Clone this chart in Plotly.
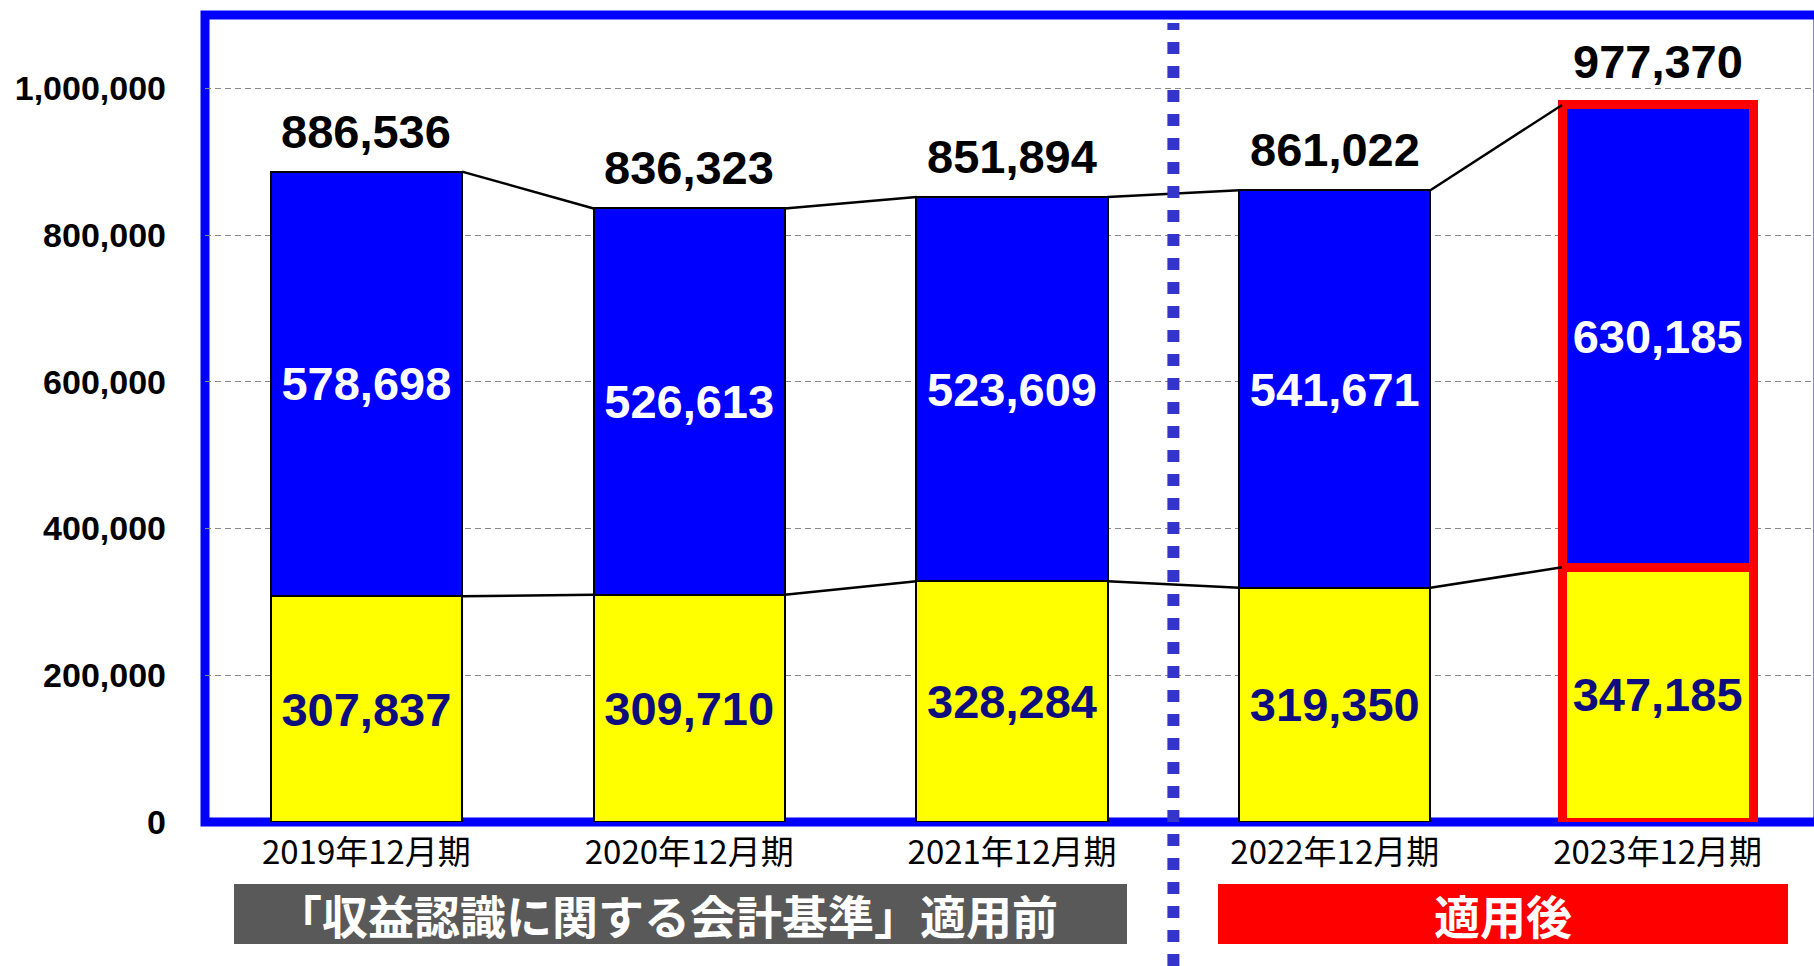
import plotly.graph_objects as go

# data
periods = ["2019年12月期", "2020年12月期", "2021年12月期", "2022年12月期", "2023年12月期"]
lower_values = [307837, 309710, 328284, 319350, 347185]
upper_values = [578698, 526613, 523609, 541671, 630185]
total_values = [886536, 836323, 851894, 861022, 977370]
y_ticks = [0, 200000, 400000, 600000, 800000, 1000000]
before_label = "「収益認識に関する会計基準」適用前"
after_label = "適用後"

W, H = 1814, 966
# plot area in page pixels
PLOT_L, PLOT_T, PLOT_B = 205, 15, 822
M_L, M_R, M_T = PLOT_L, 0, PLOT_T
M_B = H - PLOT_B
BAR_W = 0.592
CAT_STEP = 322.8  # px per category
plot_w = W - M_L - M_R
plot_h = H - M_T - M_B
X_RANGE = [-0.5, -0.5 + plot_w / CAT_STEP]
Y_RANGE = [0, 1100000]

NUM_FONT = "Liberation Sans, Arial, sans-serif"
JP_FONT = "Noto Sans CJK JP, sans-serif"

xs = list(range(len(periods)))
tops = [a + b for a, b in zip(lower_values, upper_values)]
edge_colors = ["black"] * 4 + ["#ff0000"]
edge_widths = [2, 2, 2, 2, 9]


def py_paper(py):
    return (PLOT_B - py) / plot_h


def px_paper(px):
    return (px - PLOT_L) / plot_w


def cat_paper(c):
    return (c - X_RANGE[0]) / (X_RANGE[1] - X_RANGE[0])


fig = go.Figure()

fig.add_trace(go.Bar(
    x=xs, y=lower_values, width=BAR_W,
    marker=dict(color="#ffff00", line=dict(color=edge_colors, width=edge_widths)),
    text=[f"{v:,}" for v in lower_values],
    textposition="inside", insidetextanchor="middle", textangle=0,
    constraintext="none",
    textfont=dict(family=NUM_FONT, size=47, color="#0d0d80", weight="bold"),
    hoverinfo="skip", showlegend=False,
))
fig.add_trace(go.Bar(
    x=xs, y=upper_values, width=BAR_W,
    marker=dict(color="#0000ff", line=dict(color=edge_colors, width=edge_widths)),
    text=[f"{v:,}" for v in upper_values],
    textposition="inside", insidetextanchor="middle", textangle=0,
    constraintext="none",
    textfont=dict(family=NUM_FONT, size=47, color="white", weight="bold"),
    hoverinfo="skip", showlegend=False,
))

# series lines between the bars
lx, ly_top, ly_low = [], [], []
for i in range(len(xs) - 1):
    lx += [xs[i] + BAR_W / 2, xs[i + 1] - BAR_W / 2, None]
    ly_top += [tops[i], tops[i + 1], None]
    ly_low += [lower_values[i], lower_values[i + 1], None]
for ly in (ly_top, ly_low):
    fig.add_trace(go.Scatter(
        x=lx, y=ly, mode="lines", line=dict(color="black", width=2.5),
        hoverinfo="skip", showlegend=False,
    ))

# totals above bars
for i, t in enumerate(total_values):
    fig.add_annotation(
        x=xs[i], y=tops[i], text=f"{t:,}", showarrow=False,
        yanchor="bottom", yshift=12 if i < 4 else 15,
        font=dict(family=NUM_FONT, size=47, color="black", weight="bold"),
    )

# blue frame (right side runs off the page)
fig.add_shape(type="rect", xref="paper", yref="paper",
              x0=0, x1=px_paper(1818), y0=0, y1=1,
              line=dict(color="#0000ff", width=9), layer="below")

# dotted divider between before / after
div_x = cat_paper(2.5)
fig.add_shape(type="line", xref="paper", yref="paper",
              x0=div_x, x1=div_x, y0=py_paper(H), y1=py_paper(23),
              line=dict(color="#3535cc", width=12, dash="12px,12px"), layer="above")

# banners under the axis
banners = [
    (234, 1127, "#595959", before_label, -14),
    (1218, 1788, "#ff0000", after_label, 0),
]
for x0, x1, col, label, xsh in banners:
    fig.add_shape(type="rect", xref="paper", yref="paper",
                  x0=px_paper(x0), x1=px_paper(x1),
                  y0=py_paper(944), y1=py_paper(884),
                  fillcolor=col, line=dict(width=0))
    fig.add_annotation(
        xref="paper", yref="paper",
        x=(px_paper(x0) + px_paper(x1)) / 2, y=py_paper(914), xshift=xsh,
        text=label, showarrow=False, xanchor="center", yanchor="middle",
        font=dict(family=JP_FONT, size=46, color="white", weight="bold"),
    )

fig.update_layout(
    width=W, height=H,
    margin=dict(l=M_L, r=M_R, t=M_T, b=M_B),
    barmode="stack",
    paper_bgcolor="white", plot_bgcolor="white",
    showlegend=False,
)
fig.update_xaxes(
    range=X_RANGE, tickvals=xs, ticktext=periods,
    showgrid=False, zeroline=False, showline=False, ticks="",
    tickfont=dict(family=JP_FONT, size=33, color="black"),
    ticklabelstandoff=8,
)
fig.update_yaxes(
    range=Y_RANGE, tickvals=y_ticks, tickformat=",",
    showgrid=True, gridcolor="#888888", gridwidth=1, griddash="6px,4px",
    zeroline=False, showline=False, ticks="",
    tickfont=dict(family=NUM_FONT, size=34, color="black", weight="bold"),
    ticklabelstandoff=38,
)

# drop the page's default body margin so the figure fills the window
fig.write_html("out.html", config={"displayModeBar": False},
               post_script="document.body.style.margin='0';")
